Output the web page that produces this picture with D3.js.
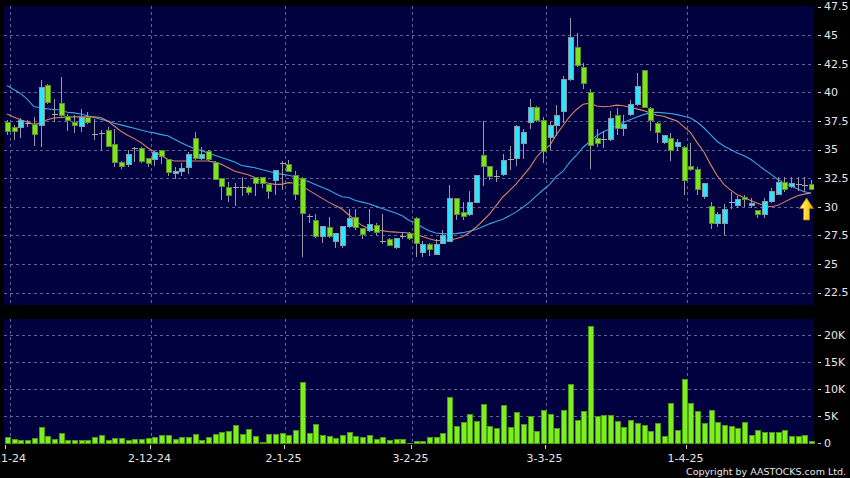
<!DOCTYPE html>
<html><head><meta charset="utf-8">
<script src="https://cdn.jsdelivr.net/npm/d3@7"></script>
<style>html,body{margin:0;padding:0;background:#000;}svg{display:block;}</style>
</head><body><div id="chart"></div>
<script>
// ---- data ----
const open = [37.4,36.9,36.9,37.3,37.2,37.1,40.6,38.1,39.0,37.9, 37.4,37.0,37.8,36.35,36.45,36.7,35.4,33.9,33.65,35.1,
 35.05,34.2,34.1,34.9,34.1,32.9,33.05,33.4,36.0,34.25, 34.8,33.9,32.45,31.7,31.75,31.75,31.65,32.55,32.55,31.9,
 32.3,33.85,33.65,32.75,32.5,29.2,28.8,27.4,28.15,26.95, 26.6,28.3,29.05,28.1,27.95,28.35,27.0,27.1,26.45,27.4,
 27.7,28.95,26.0,26.7,25.85,26.8,27.0,30.7,29.5,29.35, 30.4,34.45,33.5,32.7,32.8,34.15,34.25,35.55,37.35,38.7,
 37.5,36.05,37.1,38.3,41.1,43.9,42.2,39.95,35.95,35.9, 35.9,37.95,36.8,38.1,38.95,41.9,38.6,37.3,35.6,36.0,
 35.3,35.2,33.55,33.25,30.85,30.05,28.55,28.55,30.45,30.1, 30.8,30.1,29.65,29.35,30.45,31.1,32.1,31.75,31.95,31.9,
 31.95];
const high = [37.6,37.1,37.75,37.6,37.8,41.1,40.7,39.4,41.3,38.1, 38.0,38.5,38.3,37.7,36.7,36.95,36.8,34.0,35.0,35.2,
 35.2,34.3,34.9,35.0,34.2,33.5,33.8,34.8,36.5,35.2, 35.0,34.0,32.5,32.2,32.1,32.6,31.8,32.6,32.6,32.0,
 33.2,34.0,34.1,33.1,32.6,29.4,29.4,28.3,29.1,27.7, 28.3,29.8,29.8,28.15,29.8,28.6,29.4,27.3,27.3,27.8,
 27.8,29.1,27.0,26.8,27.2,28.0,31.9,30.8,30.4,31.4, 32.8,37.5,33.6,33.2,34.6,35.3,37.1,36.8,39.4,38.8,
 37.8,37.4,38.9,41.4,46.5,45.2,42.6,40.3,36.8,36.6, 38.4,38.6,38.0,39.3,41.7,41.95,38.7,37.4,36.3,36.4,
 35.9,35.3,35.6,33.5,32.1,30.4,29.5,30.2,31.3,30.9, 31.0,30.8,29.7,30.8,31.6,32.6,32.6,32.6,32.6,32.6,
 32.3];
const low = [36.3,35.8,36.0,37.0,35.3,35.25,39.0,37.4,37.8,36.6, 36.4,36.5,37.2,35.8,35.0,35.2,33.45,33.3,33.5,33.9,
 33.8,33.5,33.6,33.7,32.7,32.4,32.7,32.9,34.1,34.1, 34.0,32.3,30.6,30.45,30.1,30.9,31.0,30.9,31.6,30.7,
 31.0,31.5,33.0,30.6,25.6,28.6,27.3,26.8,27.3,26.4, 26.4,28.1,28.0,27.2,27.8,27.5,26.7,26.6,26.3,27.2,
 27.1,25.6,25.6,25.7,25.8,26.7,26.9,28.8,28.8,29.2, 30.3,31.8,32.3,32.2,32.7,33.2,33.6,34.2,36.8,37.4,
 33.8,35.0,36.2,37.3,41.0,42.2,40.3,33.3,35.2,35.1, 35.7,36.3,36.2,37.9,38.8,38.6,36.6,35.6,35.5,34.0,
 34.9,31.0,33.1,31.0,30.7,28.05,28.2,27.5,29.8,29.9, 30.0,29.9,29.0,29.0,30.3,31.0,31.3,31.6,31.4,31.3,
 31.5];
const close = [36.6,36.6,37.5,37.3,36.3,40.4,39.1,38.1,38.0,37.5, 37.1,37.8,37.4,36.35,36.45,35.3,33.9,33.55,34.6,35.1,
 33.95,33.8,34.7,34.4,32.95,33.1,33.3,34.6,34.2,34.6, 34.15,32.4,31.8,31.0,31.75,31.75,31.2,32.05,32.05,31.35,
 33.15,33.85,33.1,31.1,29.4,29.2,27.4,28.3,27.4,27.7, 28.3,29.0,28.15,27.55,28.45,27.75,27.0,26.65,27.25,27.4,
 27.25,26.8,26.7,26.3,26.7,27.5,30.7,29.3,29.1,30.4, 32.7,33.55,32.6,32.7,34.0,34.15,37.05,36.5,38.7,37.5,
 34.8,37.1,38.0,41.1,44.8,42.3,40.8,35.35,35.55,35.9, 37.7,36.8,37.15,38.95,40.5,38.7,37.5,36.5,36.2,34.95,
 35.65,32.3,33.25,31.5,32.05,28.55,29.35,29.75,30.45,30.65, 30.6,30.3,29.3,30.45,31.3,32.1,31.5,32.0,31.95,31.9,
 31.5];
// volume in thousands
const volume = [1.1,0.75,0.5,0.45,0.9,3.0,1.25,0.75,1.75,0.55, 0.55,0.55,0.55,1.05,1.35,0.6,0.9,0.9,0.45,0.75,
 0.75,0.9,1.05,1.35,1.35,0.75,1.1,1.15,1.55,0.5, 1.05,1.55,2.05,2.1,3.2,1.55,2.6,1.25,0.2,1.55,
 1.55,1.85,1.35,2.45,11.3,1.8,3.4,1.5,1.25,0.85, 1.35,2.0,1.25,1.0,1.35,0.75,1.0,0.6,0.75,0.75,
 0.05,0.3,0.3,1.05,1.05,1.85,8.5,3.1,3.8,5.4, 4.0,7.2,3.1,2.7,6.9,2.9,5.6,3.4,4.9,2.1,
 6.1,5.4,2.7,6.1,10.8,4.3,5.8,21.5,5.0,5.1, 5.2,4.1,3.0,4.3,3.6,3.2,2.1,3.6,1.3,7.4,
 2.3,11.8,7.3,5.9,3.6,6.1,3.9,3.3,3.1,2.7, 3.9,1.5,2.3,2.0,2.0,2.0,2.3,1.3,1.3,1.5,
 0.3];
// 10-day (orange) and 20-day (blue) moving average
const ma10 = [38.1,37.85,37.6,37.4,37.2,37.3,37.6,37.75,37.8,37.85, 37.85,37.85,37.85,37.85,37.8,37.5,37.05,36.6,36.25,35.95,
 35.6,35.15,34.8,34.45,34.15,34.0,34.0,34.0,34.0,34.0, 34.0,33.9,33.7,33.4,33.1,32.95,32.8,32.55,32.3,32.05,
 31.95,31.95,32.1,32.05,31.85,31.45,31.1,30.75,30.4,30.1, 29.8,29.3,28.8,28.35,28.1,27.95,27.9,27.82,27.78,27.75,
 27.7,27.6,27.4,27.2,27.05,27.05,27.1,27.2,27.38,27.75, 28.2,28.75,29.35,30.1,30.85,31.4,32.0,32.7,33.4,34.3,
 34.96,35.35,36.3,37.1,37.9,38.5,38.95,39.05,38.8,38.74, 38.78,38.88,38.82,38.7,38.55,38.4,38.2,38.0,37.9,37.7,
 37.5,37.0,36.5,35.6,34.8,33.7,32.7,31.95,31.45,31.05, 30.8,30.55,30.3,30.1,30.0,30.1,30.4,30.7,30.95,31.1,
 31.2];
const ma20 = [40.6,40.25,39.9,39.4,38.75,38.65,38.55,38.5,38.45,38.25, 38.2,38.1,37.95,37.8,37.65,37.5,37.3,37.15,37.0,36.85,
 36.7,36.55,36.45,36.3,36.2,35.9,35.6,35.3,35.1,34.9, 34.7,34.5,34.3,34.1,33.9,33.6,33.5,33.4,33.25,33.1,
 32.95,32.85,32.75,32.62,32.4,32.2,31.95,31.7,31.45,31.15, 30.87,30.8,30.55,30.4,30.25,30.05,29.85,29.65,29.45,29.2,
 28.8,28.6,28.2,27.9,27.7,27.65,27.6,27.65,27.73,27.85, 28.0,28.25,28.5,28.7,28.9,29.2,29.55,29.95,30.4,30.95,
 31.46,31.95,32.65,33.1,33.9,34.5,35.2,35.7,36.2,36.55, 36.8,37.1,37.35,37.6,37.85,38.05,38.2,38.25,38.2,38.15,
 38.05,37.9,37.75,37.4,36.9,36.3,35.7,35.3,35.0,34.7, 34.45,34.15,33.7,33.25,32.85,32.4,32.05,31.8,31.55,31.3,
 31.2];
const dateTickIndex = [1,22,42,61,81,102];
const dateTickLabels = ["1-11-24","2-12-24","2-1-25","3-2-25","3-3-25","1-4-25"];
const priceTicks = [47.5,45,42.5,40,37.5,35,32.5,30,27.5,25,22.5];
const priceTickLabels = ["47.5","45","42.5","40","37.5","35","32.5","30","27.5","25","22.5"];
const volTicks = [20,15,10,5,0];
const volTickLabels = ["20K","15K","10K","5K","0"];

// ---- layout ----
const W = 850, H = 478;
const main = {x0:4, x1:814, y0:6, y1:305};
const vol = {x0:4, x1:814, y0:319, y1:443.5};
const navy = "#01013f";
const gridCol = "#62629a";
const txtCol = "#e6e6e6";
const font = "'DejaVu Sans', Verdana, sans-serif";

const n = close.length;
const x = d3.scaleLinear().domain([0, n-1]).range([7, 811]);
const step = x(1) - x(0);
const y = d3.scaleLinear().domain([22.5, 47.5]).range([292.5, 6.5]);
const yv = d3.scaleLinear().domain([0, 20]).range([443.3, 335]);

const svg = d3.select("#chart").append("svg").attr("width", W).attr("height", H);
svg.append("rect").attr("width", W).attr("height", H).attr("fill", "#000");

// panels
[main, vol].forEach(p => svg.append("rect")
  .attr("x", p.x0).attr("y", p.y0).attr("width", p.x1-p.x0).attr("height", p.y1-p.y0)
  .attr("fill", navy));

const gridX = dateTickIndex.map(i => Math.round(x(i) - step/2) + 0.5);

// grid
const gMain = svg.append("g").attr("stroke", gridCol).attr("stroke-width", 1)
  .attr("stroke-dasharray", "3,3").attr("shape-rendering", "crispEdges");
priceTicks.filter(t => t < 47.5).forEach(t => {
  const yy = Math.round(y(t)) + 0.5;
  gMain.append("line").attr("x1", main.x0).attr("x2", main.x1).attr("y1", yy).attr("y2", yy);
});
gridX.forEach(gx => {
  gMain.append("line").attr("x1", gx).attr("x2", gx).attr("y1", main.y0).attr("y2", main.y1);
  gMain.append("line").attr("x1", gx).attr("x2", gx).attr("y1", vol.y0).attr("y2", vol.y1);
});
volTicks.filter(t => t > 0).forEach(t => {
  const yy = Math.round(yv(t)) + 0.5;
  gMain.append("line").attr("x1", vol.x0).attr("x2", vol.x1).attr("y1", yy).attr("y2", yy);
});

// clip
svg.append("clipPath").attr("id", "clipMain").append("rect")
  .attr("x", main.x0).attr("y", main.y0).attr("width", main.x1-main.x0).attr("height", main.y1-main.y0);

// moving averages
const lineGen = d3.line().x((d,i) => x(i)).y(d => y(d)).curve(d3.curveLinear);
const gLines = svg.append("g").attr("clip-path", "url(#clipMain)");
gLines.append("path").datum(ma20).attr("d", lineGen).attr("fill", "none")
  .attr("stroke", "#3aa6e6").attr("stroke-width", 1.1);
gLines.append("path").datum(ma10).attr("d", lineGen).attr("fill", "none")
  .attr("stroke", "#d98462").attr("stroke-width", 1.1);

// candles
const gC = svg.append("g").attr("clip-path", "url(#clipMain)").attr("shape-rendering", "crispEdges");
d3.range(n).forEach(i => {
  const cx = Math.round(x(i));
  const o = open[i], c = close[i];
  gC.append("line").attr("x1", cx + 0.5).attr("x2", cx + 0.5)
    .attr("y1", y(high[i])).attr("y2", y(low[i])).attr("stroke", "#9a9aa6").attr("stroke-width", 1);
  if (o === c) {
    const yy = Math.round(y(o)) + 0.5;
    gC.append("line").attr("x1", cx - 2.5).attr("x2", cx + 3.5).attr("y1", yy).attr("y2", yy)
      .attr("stroke", "#a6a6b0").attr("stroke-width", 1.5);
  } else {
    const up = c > o;
    const top = y(Math.max(o, c)), bot = y(Math.min(o, c));
    gC.append("rect").attr("x", cx - 2).attr("width", 5)
      .attr("y", top).attr("height", Math.max(1, bot - top))
      .attr("fill", up ? "#2fe3fb" : "#7ce41c")
      .attr("stroke", up ? "#8a9aa8" : "#5a8f2a").attr("stroke-width", 1);
  }
});

// volume bars
const gV = svg.append("g").attr("shape-rendering", "crispEdges");
volume.forEach((v, i) => {
  const cx = Math.round(x(i));
  const top = yv(v);
  gV.append("rect").attr("x", cx - 2).attr("width", 5)
    .attr("y", top).attr("height", Math.max(0.5, yv(0) - top))
    .attr("fill", "#7cf01e").attr("stroke", "#4f9a14").attr("stroke-width", 1);
});

// yellow arrow at last candle
const ax = x(n-1) - 4.5;
const defs = svg.append("defs");
const grad = defs.append("linearGradient").attr("id", "arrowGrad").attr("x1", 0).attr("x2", 1).attr("y1", 0).attr("y2", 0);
grad.append("stop").attr("offset", "0%").attr("stop-color", "#fff59a");
grad.append("stop").attr("offset", "60%").attr("stop-color", "#ffd21e");
grad.append("stop").attr("offset", "100%").attr("stop-color", "#e0a000");
svg.append("path")
  .attr("d", `M${ax},198 L${ax+7},208.5 L${ax+3},208.5 L${ax+3},220 L${ax-3},220 L${ax-3},208.5 L${ax-7},208.5 Z`)
  .attr("fill", "url(#arrowGrad)").attr("stroke", "#b07a00").attr("stroke-width", 0.8);

// right axis labels
const gA = svg.append("g").attr("font-family", font).attr("font-size", 11).attr("fill", txtCol);
priceTicks.forEach((t, k) => {
  const yy = y(t);
  svg.append("line").attr("x1", 818).attr("x2", 821).attr("y1", Math.round(yy)+0.5).attr("y2", Math.round(yy)+0.5)
    .attr("stroke", "#cfcfcf").attr("shape-rendering", "crispEdges");
  gA.append("text").attr("x", 824).attr("y", yy).attr("dy", "0.36em").text(priceTickLabels[k]);
});
volTicks.forEach((t, k) => {
  const yy = yv(t);
  svg.append("line").attr("x1", 818).attr("x2", 821).attr("y1", Math.round(yy)+0.5).attr("y2", Math.round(yy)+0.5)
    .attr("stroke", "#cfcfcf").attr("shape-rendering", "crispEdges");
  gA.append("text").attr("x", 824).attr("y", yy).attr("dy", "0.36em").text(volTickLabels[k]);
});

// bottom date labels (the first one runs off the left edge, as in the original)
dateTickIndex.forEach((idx, k) => {
  const gx = gridX[k] - 2 - (k === 0 ? 4 : 0);
  svg.append("line").attr("x1", Math.round(gx)+0.5).attr("x2", Math.round(gx)+0.5).attr("y1", 445).attr("y2", 449)
    .attr("stroke", "#cfcfcf").attr("shape-rendering", "crispEdges");
  gA.append("text").attr("x", gx).attr("y", 461.5).attr("text-anchor", "middle").text(dateTickLabels[k]);
});

// copyright
svg.append("text").attr("x", 846).attr("y", 475).attr("text-anchor", "end")
  .attr("font-family", font).attr("font-size", 9.5).attr("fill", txtCol)
  .text("Copyright by AASTOCKS.com Ltd.");
</script>
</body></html>
